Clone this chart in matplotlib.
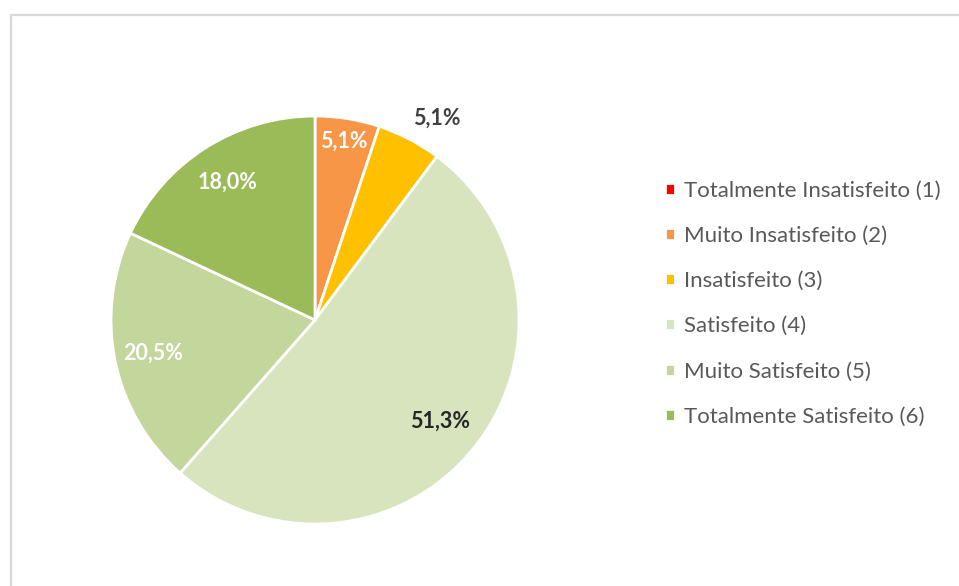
import matplotlib.pyplot as plt
import numpy as np

categorias = ['Totalmente Insatisfeito (1)', 'Muito Insatisfeito (2)', 'Insatisfeito (3)',
              'Satisfeito (4)', 'Muito Satisfeito (5)', 'Totalmente Satisfeito (6)']
valores = [0.0, 5.1, 5.1, 51.3, 20.5, 18.0]
rotulos = ['', '5,1%', '5,1%', '51,3%', '20,5%', '18,0%']
cores = ['#FF0000', '#F79646', '#FFC000', '#D7E4BD', '#C3D69B', '#9BBB59']
cor_rotulo = ['white', 'white', '#404040', '#262626', 'white', 'white']
dist_rotulo = [0.8, 0.89, 1.155, 0.79, 0.81, 0.80]
desvio_ang = [0, 0, -3.6, 0, 0, 0]

plt.rcParams['font.family'] = ['Lato', 'DejaVu Sans']

fig = plt.figure(figsize=(9.59, 5.86), dpi=100)
W, H = 959, 586

# moldura cinza do grafico
fig.add_artist(plt.Line2D([11 / W, 11 / W], [0, 1 - 15 / H], color='#D9D9D9', lw=1.6,
                          transform=fig.transFigure))
fig.add_artist(plt.Line2D([11 / W, 1], [1 - 15 / H, 1 - 15 / H], color='#D9D9D9', lw=1.6,
                          transform=fig.transFigure))

cx, cy, r = 315, 320, 204
ax = fig.add_axes([(cx - r) / W, (H - cy - r) / H, 2 * r / W, 2 * r / H])
wedges, _ = ax.pie(valores, colors=cores, startangle=90, counterclock=False,
                   wedgeprops=dict(edgecolor='white', linewidth=2))
ax.set_xlim(-1, 1)
ax.set_ylim(-1, 1)
ax.set_aspect('equal')
ax.axis('off')

for w, txt, c, d, da in zip(wedges, rotulos, cor_rotulo, dist_rotulo, desvio_ang):
    if not txt:
        continue
    ang = np.deg2rad((w.theta1 + w.theta2) / 2 + da)
    ax.text(d * np.cos(ang), d * np.sin(ang), txt, ha='center', va='center',
            color=c, fontsize=15.5, fontweight='bold')

leg = fig.legend(wedges, categorias, loc='upper left', bbox_to_anchor=(665 / W, 1 - 181 / H),
                 frameon=False, fontsize=16, handlelength=0.45, handleheight=0.45,
                 handletextpad=0.42, labelspacing=1.13, labelcolor='#595959',
                 borderpad=0, borderaxespad=0)

fig.savefig('out.png', dpi=100, facecolor='white')
